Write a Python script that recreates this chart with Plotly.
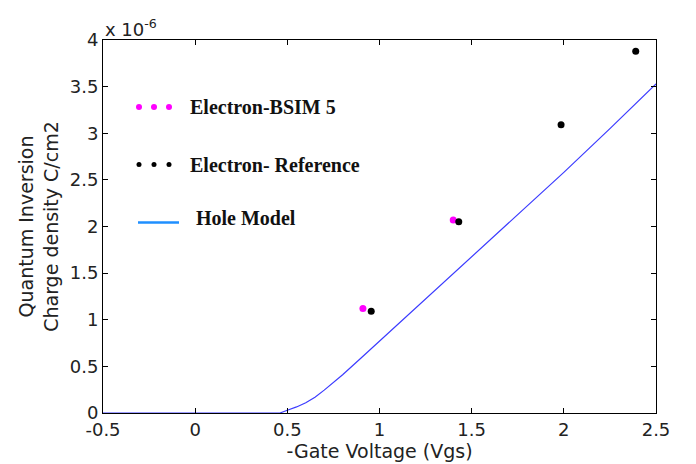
import plotly.graph_objects as go

# Data (charge density in units of 1e-6 C/cm2)
bsim_vg = [0.91, 1.40]
bsim_q = [1.12, 2.07]
ref_vg = [0.955, 1.43, 1.985, 2.39]
ref_q = [1.09, 2.05, 3.09, 3.88]
hole_vg = [-0.5, 0.0, 0.46, 0.5, 0.55, 0.6, 0.65, 0.7, 0.75, 0.8, 0.9, 1.0, 1.1, 1.25, 1.5, 1.75, 2.0, 2.25, 2.5]
hole_q = [0, 0, 0, 0.03, 0.065, 0.11, 0.17, 0.245, 0.325, 0.41, 0.59, 0.77, 0.95, 1.22, 1.67, 2.12, 2.58, 3.05, 3.53]

x_ticks = [-0.5, 0, 0.5, 1, 1.5, 2, 2.5]
x_ticklabels = ["-0.5", "0", "0.5", "1", "1.5", "2", "2.5"]
y_ticks = [0, 0.5, 1, 1.5, 2, 2.5, 3, 3.5, 4]
y_ticklabels = ["0", "0.5", "1", "1.5", "2", "2.5", "3", "3.5", "4"]

legend_names = ["Electron-BSIM 5", "Electron- Reference", "Hole Model"]

fig = go.Figure()
fig.add_trace(go.Scatter(x=hole_vg, y=hole_q, mode="lines",
                         line=dict(color="#3b3bff", width=1.2), cliponaxis=False,
                         name=legend_names[2]))
fig.add_trace(go.Scatter(x=bsim_vg, y=bsim_q, mode="markers",
                         marker=dict(color="#ff00ff", size=7), name=legend_names[0]))
fig.add_trace(go.Scatter(x=ref_vg, y=ref_q, mode="markers",
                         marker=dict(color="black", size=7), name=legend_names[1]))

sans = "DejaVu Sans, Arial"
axis_common = dict(showline=True, linecolor="black", linewidth=1, mirror="ticks",
                   ticks="inside", ticklen=5, tickcolor="black", showgrid=False,
                   zeroline=False, automargin=False,
                   tickfont=dict(family=sans, size=18, color="#222"))

fig.update_xaxes(range=[-0.5, 2.5], tickvals=x_ticks, ticktext=x_ticklabels,
                 title=dict(text="-Gate Voltage (Vgs)", standoff=2,
                            font=dict(family=sans, size=19, color="#222")),
                 **axis_common)
fig.update_yaxes(range=[0, 4], tickvals=y_ticks, ticktext=y_ticklabels,
                 title=dict(text="Quantum Inversion<br>Charge density C/cm2", standoff=6,
                            font=dict(family=sans, size=19, color="#222")),
                 **axis_common)

# Manual legend (in paper coordinates)
shapes = []
annotations = []
legend_font = dict(family="Liberation Serif, Times New Roman", size=20, color="#111")
pw, ph = 553.0, 373.0
rows = [((413 - 107) / ph, "#ff00ff", 6, legend_names[0]),
        ((413 - 164.5) / ph, "black", 5, legend_names[1])]
for yp, col, d, name in rows:
    for xpx in [139, 154, 169]:
        xc = (xpx - 103) / pw
        shapes.append(dict(type="circle", xref="paper", yref="paper",
                           x0=xc - d / 2 / pw, x1=xc + d / 2 / pw,
                           y0=yp - d / 2 / ph, y1=yp + d / 2 / ph,
                           fillcolor=col, line=dict(width=0)))
    annotations.append(dict(x=(188 - 103) / pw, y=yp, xref="paper", yref="paper",
                            text="<b>%s</b>" % name, showarrow=False, xanchor="left",
                            yanchor="middle", font=legend_font))
yl = (413 - 222.5) / ph
shapes.append(dict(type="line", xref="paper", yref="paper",
                   x0=(138 - 103) / pw, x1=(179 - 103) / pw, y0=yl, y1=yl,
                   line=dict(color="#1f8fff", width=2.5)))
annotations.append(dict(x=(194 - 103) / pw, y=(413 - 218) / ph, xref="paper", yref="paper",
                        text="<b>%s</b>" % legend_names[2], showarrow=False, xanchor="left",
                        yanchor="middle", font=legend_font))
annotations.append(dict(x=0, y=1, xref="paper", yref="paper", text="x 10<sup>-6</sup>",
                        showarrow=False, xanchor="left", yanchor="bottom", yshift=-2,
                        font=dict(family=sans, size=18, color="#222")))

# page body has an 8px margin, so shrink the figure to fit the 696x464 window
fig.update_layout(width=688, height=456, margin=dict(l=95, r=40, t=32, b=51),
                  plot_bgcolor="white", paper_bgcolor="white", showlegend=False,
                  shapes=shapes, annotations=annotations)

fig.write_html("out.html")
